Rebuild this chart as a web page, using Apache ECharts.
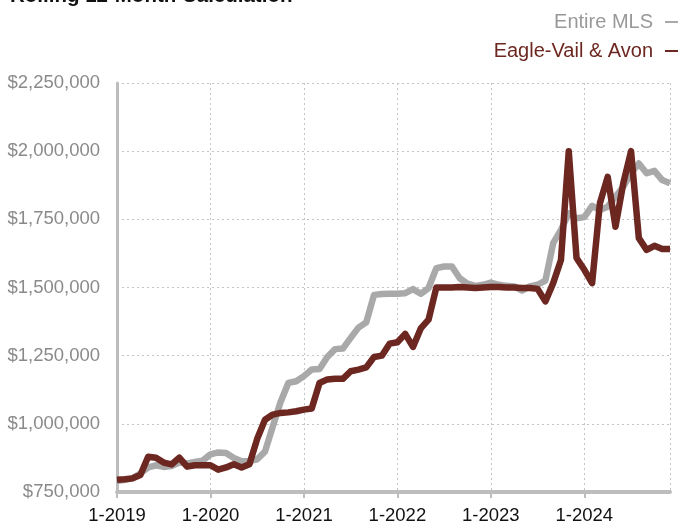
<!DOCTYPE html>
<html>
<head>
<meta charset="utf-8">
<script src="https://cdn.jsdelivr.net/npm/echarts@6/dist/echarts.min.js"></script>
<style>
html,body{margin:0;padding:0;background:#fff;}
#chart{width:688px;height:525px;}
</style>
</head>
<body>
<div id="chart"></div>
<script>
// Monthly categories 1-2019 .. 12-2024
const years = [2019, 2020, 2021, 2022, 2023, 2024];
const categories = [];
years.forEach(y => { for (let m = 1; m <= 12; m++) categories.push(m + '-' + y); });

const seriesNames = ['Entire MLS', 'Eagle-Vail & Avon'];

const entireMLS = [
  790000, 795000, 800000, 818000, 840000, 848000, 842000, 845000, 858000, 855000, 860000, 865000,
  888000, 895000, 893000, 875000, 863000, 863000, 870000, 898000, 990000, 1080000, 1150000, 1156000,
  1175000, 1199000, 1201000, 1245000, 1274000, 1276000, 1315000, 1353000, 1372000, 1473000, 1476000, 1477000,
  1477000, 1479000, 1494000, 1477000, 1498000, 1571000, 1577000, 1577000, 1534000, 1514000, 1506000, 1510000,
  1518000, 1510000, 1506000, 1504000, 1489000, 1504000, 1510000, 1525000, 1663000, 1711000, 1772000, 1754000,
  1758000, 1799000, 1784000, 1796000, 1833000, 1870000, 1919000, 1955000, 1919000, 1928000, 1894000, 1882000
];

const eagleVailAvon = [
  795000, 797000, 800000, 812000, 879000, 876000, 858000, 851000, 876000, 843000, 848000, 848000,
  848000, 832000, 840000, 852000, 840000, 852000, 945000, 1015000, 1034000, 1040000, 1042000, 1046000,
  1052000, 1056000, 1150000, 1163000, 1165000, 1165000, 1193000, 1199000, 1207000, 1245000, 1250000, 1294000,
  1299000, 1330000, 1282000, 1350000, 1382000, 1500000, 1500000, 1500000, 1502000, 1500000, 1498000, 1500000,
  1502000, 1502000, 1500000, 1500000, 1498000, 1498000, 1495000, 1449000, 1516000, 1601000, 2000000, 1608000,
  1565000, 1516000, 1809000, 1906000, 1723000, 1882000, 2000000, 1681000, 1638000, 1653000, 1641000, 1641000
];

const yTicks = [750000, 1000000, 1250000, 1500000, 1750000, 2000000, 2250000];

const GRAY = '#a9a9a9';
const RED = '#6c2720';
const FONT = 'Liberation Sans, Arial, sans-serif';

function fmtMoney(v) {
  return '$' + String(v).replace(/\B(?=(\d{3})+(?!\d))/g, ',');
}

const chart = echarts.init(document.getElementById('chart'), null, {renderer: 'canvas'});
const lastIdx = categories.length - 1;

chart.setOption({
  animation: false,
  backgroundColor: '#ffffff',
  title: {
    text: 'Rolling 12-Month Calculation',
    left: 5,
    top: -19,
    textStyle: {fontFamily: FONT, fontSize: 20.5, fontWeight: 'bold', color: '#111'}
  },
  legend: {
    orient: 'vertical',
    right: 5,
    top: 7,
    align: 'right',
    itemGap: 9,
    itemWidth: 13,
    itemHeight: 2,
    icon: 'rect',
    selectedMode: false,
    data: [
      {name: seriesNames[0], textStyle: {color: '#999999'}},
      {name: seriesNames[1], textStyle: {color: RED}}
    ],
    textStyle: {fontFamily: FONT, fontSize: 20, padding: [0, 7, 0, 0]}
  },
  grid: {left: 117, right: 18, top: 83, bottom: 32, containLabel: false},
  xAxis: {
    type: 'category',
    data: categories,
    boundaryGap: false,
    axisLine: {show: true, lineStyle: {color: '#bdbdbd', width: 4}},
    axisTick: {show: true, alignWithLabel: true, interval: (i) => i % 12 === 0, length: 6, lineStyle: {color: '#bdbdbd', width: 2}},
    axisLabel: {
      interval: (i) => i % 12 === 0,
      color: '#111',
      fontFamily: FONT,
      fontSize: 18.5,
      margin: 14
    },
    splitLine: {
      show: true,
      interval: (i) => (i % 12 === 0 && i !== 0) || i === lastIdx,
      lineStyle: {color: '#c4c4c4', type: [2, 3], width: 1}
    }
  },
  yAxis: {
    type: 'value',
    min: 750000,
    max: 2250000,
    interval: 250000,
    axisLine: {show: true, lineStyle: {color: '#bdbdbd', width: 3}},
    axisTick: {show: false},
    axisLabel: {
      color: '#8a8a8a',
      fontFamily: FONT,
      fontSize: 18.5,
      margin: 17,
      formatter: (v) => yTicks.includes(v) ? fmtMoney(v) : ''
    },
    splitLine: {show: true, lineStyle: {color: '#c4c4c4', type: [2, 3], width: 1}}
  },
  series: [
    {
      name: seriesNames[0],
      type: 'line',
      data: entireMLS,
      showSymbol: false,
      symbol: 'none',
      lineStyle: {color: GRAY, width: 6.5, join: 'round'},
      itemStyle: {color: GRAY},
      z: 2
    },
    {
      name: seriesNames[1],
      type: 'line',
      data: eagleVailAvon,
      showSymbol: false,
      symbol: 'none',
      lineStyle: {color: RED, width: 6.5, join: 'round'},
      itemStyle: {color: RED},
      z: 3
    }
  ]
});
</script>
</body>
</html>
